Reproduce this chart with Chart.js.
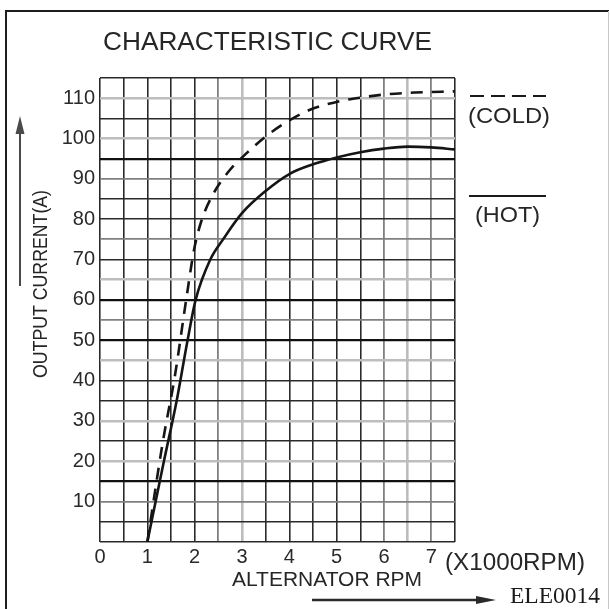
<!DOCTYPE html>
<html>
<head>
<meta charset="utf-8">
<script src="https://cdn.jsdelivr.net/npm/chart.js@4.4.1/dist/chart.umd.min.js"></script>
<style>
html,body{margin:0;padding:0;background:#fff;overflow:hidden}
#c{display:block}
</style>
</head>
<body>
<canvas id="c" width="610" height="609"></canvas>
<script>
// ---- data ----
const hotRpm   = [1.0, 1.35, 1.62, 1.85, 2.02, 2.33, 2.6, 3.0,  3.5, 4.0,  4.5,  5.0,  5.5,  6.0,  6.5, 7.0,  7.5];
const hotAmps  = [0,   20,   35,   50,   60,   70,   75,  81.5, 87,  91.2, 93.6, 95.3, 96.6, 97.5, 98,  97.8, 97.3];
const coldRpm  = [1.0, 1.33, 1.58, 1.82, 1.99, 2.14, 2.38, 2.73, 3.11, 3.5, 4.0, 4.41, 5.04, 5.53, 6.09, 6.66, 7.5];
const coldAmps = [0,   25,   41,   60,   72.6, 79.5, 86,   92,   96.5, 100.5, 104.5, 107, 109.2, 110.2, 111, 111.4, 111.7];
const xTickLabels = ['0','1','2','3','4','5','6','7'];
const yTickLabels = ['10','20','30','40','50','60','70','80','90','100','110'];
const seriesNames = ['(HOT)', '(COLD)'];

// ---- grid styling (scan look) ----
const D = ['#2a2a2a', 1.6], K = ['#111', 2.2], G = ['#808080', 1.8], L = ['#bdbdbd', 2.6];
// y gridlines for values 0,5,...,115
const hStyle = [D,D,G,K,L,D,L,D,D,L,K,G,K,L,D,G,D,D,G,K,L,D,L,D];
// x gridlines for values 0,0.5,...,7.5
const vStyle = [D,D,D,D,D,G,L,D,D,D,D,D,G,L,G,D];

const SANS = "'Liberation Sans', Arial, Helvetica, sans-serif";
const SERIF = "'Liberation Serif', 'Times New Roman', serif";

function drawArrow(ctx, x1, y1, x2, y2, headLen, headHalf, color, width) {
  const ang = Math.atan2(y2 - y1, x2 - x1);
  ctx.save();
  ctx.strokeStyle = color; ctx.fillStyle = color; ctx.lineWidth = width;
  const bx = x2 - headLen * Math.cos(ang), by = y2 - headLen * Math.sin(ang);
  ctx.beginPath(); ctx.moveTo(x1, y1); ctx.lineTo(bx, by); ctx.stroke();
  ctx.beginPath();
  ctx.moveTo(x2, y2);
  ctx.lineTo(bx + headHalf * Math.sin(ang), by - headHalf * Math.cos(ang));
  ctx.lineTo(bx - headHalf * Math.sin(ang), by + headHalf * Math.cos(ang));
  ctx.closePath(); ctx.fill();
  ctx.restore();
}

function fitText(ctx, text, x, y, targetW) {
  const w = ctx.measureText(text).width;
  const s = targetW / w;
  ctx.save(); ctx.translate(x, y); ctx.scale(s, 1); ctx.fillText(text, 0, 0); ctx.restore();
}

const decor = {
  id: 'decor',
  beforeDraw(chart) {
    const ctx = chart.ctx;
    ctx.save();
    ctx.fillStyle = '#fff';
    ctx.fillRect(0, 0, chart.width, chart.height);
    ctx.strokeStyle = '#1e1e1e'; ctx.lineWidth = 2;
    ctx.beginPath(); ctx.moveTo(6, 609); ctx.lineTo(6, 11); ctx.lineTo(609, 11); ctx.stroke();
    ctx.strokeStyle = '#c8c8c8'; ctx.lineWidth = 1;
    ctx.beginPath(); ctx.moveTo(608.5, 11); ctx.lineTo(608.5, 609); ctx.stroke();
    ctx.restore();
  },
  afterDraw(chart) {
    const ctx = chart.ctx;
    ctx.save();
    ctx.fillStyle = '#262626';
    ctx.textBaseline = 'alphabetic';
    // title
    ctx.font = '26px ' + SANS;
    ctx.textAlign = 'left';
    fitText(ctx, 'CHARACTERISTIC CURVE', 103, 50, 329);
    // y axis title (rotated)
    ctx.save();
    ctx.translate(47, 378);
    ctx.rotate(-Math.PI / 2);
    ctx.font = '21px ' + SANS;
    fitText(ctx, 'OUTPUT CURRENT(A)', 0, 0, 188);
    ctx.restore();
    // x axis title
    ctx.font = '20px ' + SANS;
    fitText(ctx, 'ALTERNATOR RPM', 232, 586, 190);
    // unit
    ctx.font = '23px ' + SANS;
    fitText(ctx, '(X1000RPM)', 445, 570, 140);
    // code
    ctx.font = '24px ' + SERIF;
    ctx.fillStyle = '#1a1a1a';
    fitText(ctx, 'ELE0014', 510, 603, 90);
    // legend labels
    ctx.fillStyle = '#262626';
    ctx.font = '22px ' + SANS;
    fitText(ctx, seriesNames[1], 468, 123, 82);
    fitText(ctx, seriesNames[0], 475, 222, 65);
    // legend samples
    ctx.strokeStyle = '#1a1a1a'; ctx.lineWidth = 2;
    ctx.setLineDash([14, 7]);
    ctx.beginPath(); ctx.moveTo(470, 96); ctx.lineTo(546, 96); ctx.stroke();
    ctx.setLineDash([]);
    ctx.beginPath(); ctx.moveTo(469, 196); ctx.lineTo(546, 196); ctx.stroke();
    ctx.restore();
    // arrows
    drawArrow(ctx, 20, 286, 20, 116, 18, 4.5, '#4a4a4a', 2);
    drawArrow(ctx, 312, 600, 496, 600, 20, 4, '#2a2a2a', 2.5);
  }
};

new Chart(document.getElementById('c'), {
  type: 'line',
  data: {
    datasets: [
      {
        label: seriesNames[0],
        data: hotRpm.map((x, i) => ({ x, y: hotAmps[i] })),
        borderColor: '#151515', borderWidth: 2.6,
        pointRadius: 0, fill: false, cubicInterpolationMode: 'monotone'
      },
      {
        label: seriesNames[1],
        data: coldRpm.map((x, i) => ({ x, y: coldAmps[i] })),
        borderColor: '#151515', borderWidth: 2.6, borderDash: [12, 9],
        pointRadius: 0, fill: false, cubicInterpolationMode: 'monotone'
      }
    ]
  },
  options: {
    responsive: false,
    animation: false,
    events: [],
    layout: { padding: { left: 0, top: 78, right: 155, bottom: 0 } },
    plugins: { legend: { display: false }, title: { display: false }, tooltip: { enabled: false } },
    scales: {
      x: {
        type: 'linear', min: 0, max: 7.5,
        border: { display: false },
        grid: {
          drawTicks: false,
          color: c => (vStyle[c.index] || D)[0],
          lineWidth: c => (vStyle[c.index] || D)[1]
        },
        ticks: {
          stepSize: 0.5, autoSkip: false, maxRotation: 0, padding: 3,
          color: '#2a2a2a', font: { family: SANS, size: 20 },
          callback: v => xTickLabels.includes(String(v)) ? String(v) : ''
        },
        afterFit: s => { s.height = 67; }
      },
      y: {
        min: 0, max: 115,
        border: { display: false },
        grid: {
          drawTicks: false,
          color: c => (hStyle[c.index] || D)[0],
          lineWidth: c => (hStyle[c.index] || D)[1]
        },
        ticks: {
          stepSize: 5, autoSkip: false, padding: 5,
          color: '#2a2a2a', font: { family: SANS, size: 20 },
          callback: v => yTickLabels.includes(String(v)) ? String(v) : ''
        },
        afterFit: s => { s.width = 100; }
      }
    }
  },
  plugins: [decor]
});
</script>
</body>
</html>
